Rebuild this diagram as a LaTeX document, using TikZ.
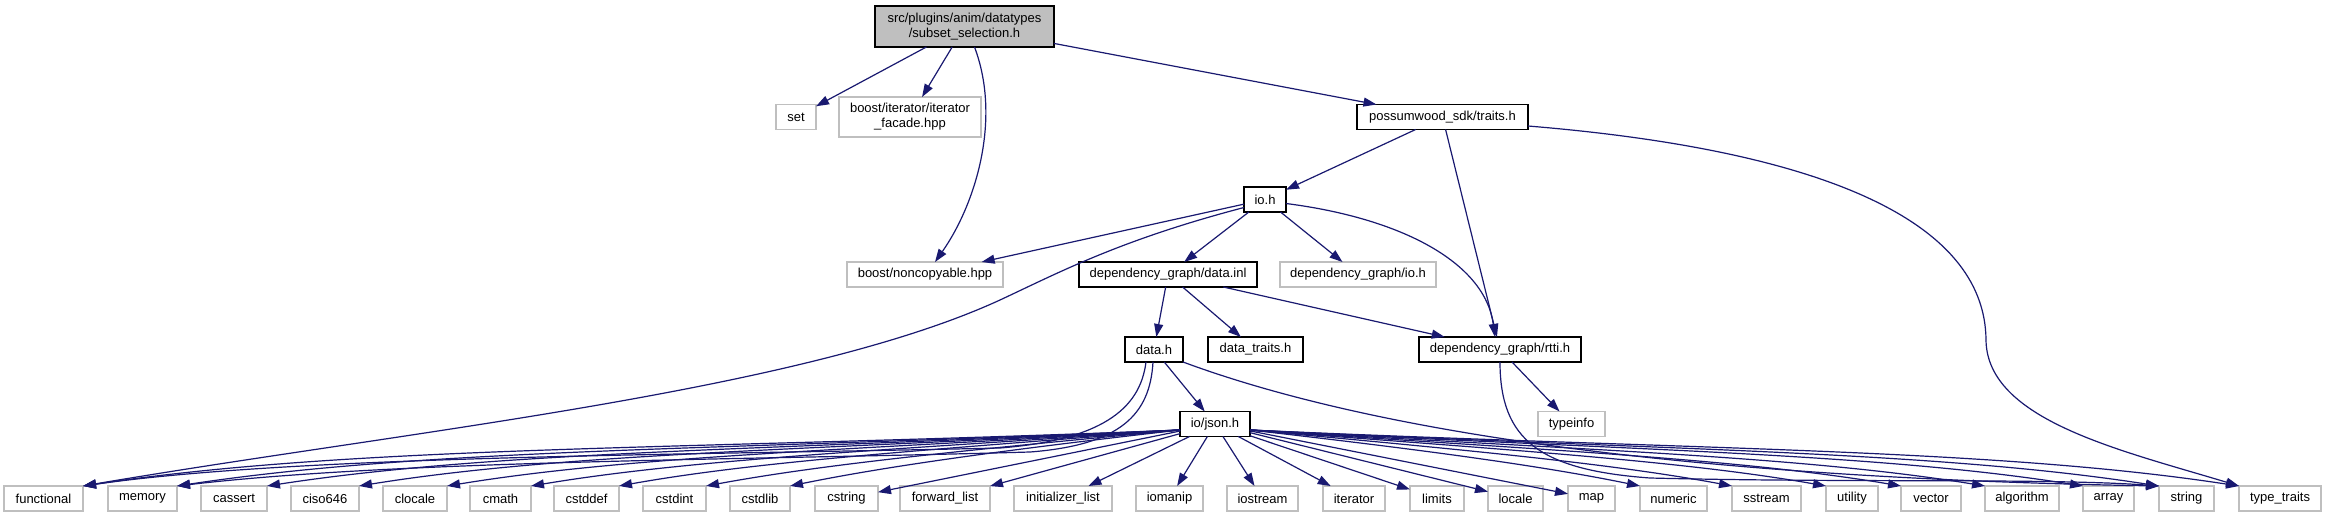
\documentclass[tikz,border=0pt]{standalone}
\usepackage{fontspec}
\setmainfont{Liberation Sans}
\usetikzlibrary{arrows.meta}
\definecolor{edgeblue}{HTML}{191970}
\definecolor{boxgray}{HTML}{BFBFBF}
\definecolor{rootfill}{HTML}{BFBFBF}
\newcommand\nodefont{\fontsize{13}{15}\selectfont}
\begin{document}
\begin{tikzpicture}[x=1pt,y=-1pt,
  base/.style={rectangle, draw, minimum height=25, inner sep=0pt, outer sep=0pt, font=\nodefont, line width=1.1pt, text=black, align=center},
  gbox/.style={base, draw=boxgray},
  bbox/.style={base, draw=black},
  root/.style={base, draw=black, fill=rootfill},
  edge/.style={draw=edgeblue, line width=1.2pt, -{Triangle[length=13pt,width=9pt]}}]
\fill[white] (0,0) rectangle (2327,517);
\useasboundingbox (0,0) rectangle (2327,517);

% top
\node[root, minimum width=179, minimum height=41] (S) at (964.5,26.5) {src/plugins/anim/datatypes\\/subset\_selection.h};
\node[gbox, minimum width=40] (set) at (796,117) {set};
\node[gbox, minimum width=142, minimum height=40] (facade) at (910,117) {boost/iterator/iterator\\\_facade.hpp};
\node[bbox, minimum width=171] (P) at (1442.5,117) {possumwood\_sdk/traits.h};
\node[bbox, minimum width=42] (io) at (1265,199.5) {io.h};
\node[gbox, minimum width=156] (noncopyable) at (925,274.5) {boost/noncopyable.hpp};
\node[bbox, minimum width=178] (datainl) at (1168,274.5) {dependency\_graph/data.inl};
\node[gbox, minimum width=156] (dgio) at (1358,274.5) {dependency\_graph/io.h};
\node[bbox, minimum width=58] (datah) at (1154,349.5) {data.h};
\node[bbox, minimum width=95] (datatraits) at (1255.5,349.5) {data\_traits.h};
\node[bbox, minimum width=162] (rtti) at (1500,349.5) {dependency\_graph/rtti.h};
\node[bbox, minimum width=70] (json) at (1215,424) {io/json.h};
\node[gbox, minimum width=67] (typeinfo) at (1571.5,424) {typeinfo};

% bottom row
\foreach \n/\x/\w/\t in {functional/43.5/79/functional, memory/142.5/69/memory, cassert/234/66/cassert,
  ciso646/325/68/ciso646, clocale/415/64/clocale, cmath/500.5/61/cmath, cstddef/586.5/65/cstddef,
  cstdint/674.5/63/cstdint, cstdlib/760/60/cstdlib, cstring/846.5/63/cstring,
  forwardlist/945/90/forward\_list, initlist/1063/98/initializer\_list, iomanip/1169.5/67/iomanip,
  iostream/1262.5/71/iostream, iterator/1354/62/iterator, limits/1437/54/limits, locale/1515.5/55/locale,
  map/1591.5/47/map, numeric/1673.5/67/numeric, sstream/1766.5/69/sstream, utility/1852/52/utility,
  vector/1931/60/vector, algorithm/2022/74/algorithm, array/2108.5/51/array, string/2186.5/55/string,
  typetraits/2280/82/type\_traits}
  \node[gbox, minimum width=\w] (\n) at (\x,498.5) {\t};

% edges from root
\draw[edge] (S) -- (set);
\draw[edge] (S) -- (facade);
\draw[edge] (S) -- (P);
\draw[edge] ([xshift=10pt]S.south) .. controls (1002,120) and (975,205) .. ([xshift=10pt]noncopyable.north);

% possumwood_sdk/traits.h
\draw[edge] (P) -- (io);
\draw[edge] (P) -- (rtti);
\draw[edge] ([yshift=-9pt]P.east) .. controls (1820,150) and (1985,220) .. (1986,340)
   .. controls (1987,420) and (2120,450) .. (typetraits.north west);

% io.h
\draw[edge] (io) -- (noncopyable);
\draw[edge] ([yshift=-8pt]io.west) .. controls (1120,240) and (1060,272) .. (1000,300)
   .. controls (800,392) and (400,432) .. (functional.north east);
\draw[edge] (io) -- (datainl);
\draw[edge] (io) -- (dgio);
\draw[edge] ([yshift=-4pt]io.east) .. controls (1400,218) and (1485,262) .. ([xshift=-5pt]rtti.north);

% data.inl
\draw[edge] (datainl) -- (datah);
\draw[edge] (datainl) -- (datatraits);
\draw[edge] (datainl) -- (rtti);

% data.h
\draw[edge] (datah) -- (json);
\draw[edge] ([xshift=-8pt]datah.south) .. controls (1140,410) and (1100,440) .. (1000,448)
   .. controls (700,455) and (300,455) .. (functional.north east);
\draw[edge] ([xshift=-1pt]datah.south) .. controls (1150,415) and (1120,445) .. (1030,452)
   .. controls (750,460) and (400,460) .. (memory.north east);
\draw[edge] (datah.south east) .. controls (1380,435) and (1700,478) .. (string.north west);

% rtti.h
\draw[edge] (rtti) -- (typeinfo);
\draw[edge] (rtti.south) .. controls (1500,440) and (1540,470) .. (1650,478)
   .. controls (1850,483) and (2050,478) .. (string.north west);

% io/json.h
\foreach \t/\ax/\bx/\by in {functional/686/357/445, memory/729/428/448, cassert/769/495/451,
  ciso646/811/564/453, clocale/850/630/456, cmath/888/693/459, cstddef/928/759/461,
  cstdint/967/825/464, cstdlib/1004/888/466}
  \draw[edge] ([yshift=-6pt]json.west) .. controls (\ax,450) and (\bx,\by) .. (\t.north east);
\foreach \t in {cstring, forwardlist, initlist, iomanip, iostream, iterator, limits, locale, map}
  \draw[edge] (json) -- (\t);
\foreach \t/\ax/\bx/\by in {numeric/1425.5/1542.5/466, sstream/1467/1611.5/463.5, utility/1509/1682/460.7,
  vector/1543/1738/458.5, algorithm/1581/1801/456, array/1625/1875/453, string/1659/1932/450.7,
  typetraits/1695/1992/448.3}
  \draw[edge] ([yshift=-6pt]json.east) .. controls (\ax,450) and (\bx,\by) .. (\t.north west);
\end{tikzpicture}
\end{document}
